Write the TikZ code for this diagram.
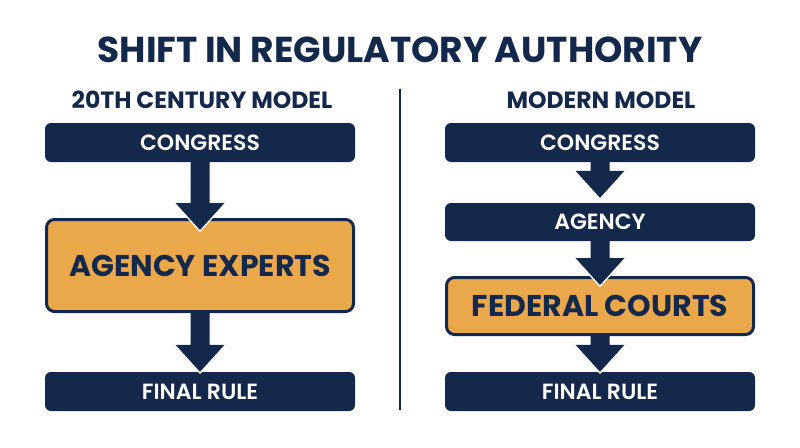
\documentclass[tikz,border=0pt]{standalone}
\usepackage{fontspec}
\setmainfont{Poppins}
\newfontfamily\medfont{Poppins SemiBold}
\usetikzlibrary{calc}
\definecolor{navy}{HTML}{13284B}
\definecolor{gold}{HTML}{EBA84A}
\tikzset{
  darkbox/.style={fill=navy, rounded corners=6pt, minimum width=310pt, text=white, font=\medfont\fontsize{22}{24}\selectfont},
  goldbox/.style={fill=gold, draw=navy, line width=3pt, rounded corners=8pt, minimum width=307pt, text=navy, font=\bfseries\fontsize{30}{32}\selectfont},
  colhead/.style={text=navy, font=\bfseries\fontsize{23.5}{25}\selectfont},
}
% block arrow: from box #1 down to box #2, tip shifted by #3
\newcommand{\blockarrow}[3]{%
  \draw[white, line width=3pt, miter limit=20] let \p1=(#1.south), \p2=($(#2.north)+(0,#3)$) in
    (\x1-24.5pt,\y2+27pt) -- (\x1,\y2) -- (\x1+24.5pt,\y2+27pt);
  \fill[navy] let \p1=(#1.south), \p2=($(#2.north)+(0,#3)$) in
    (\x1-9.5pt,\y1) -- (\x1-9.5pt,\y2+27pt) -- (\x1-24.5pt,\y2+27pt) -- (\x1,\y2)
    -- (\x1+24.5pt,\y2+27pt) -- (\x1+9.5pt,\y2+27pt) -- (\x1+9.5pt,\y1) -- cycle;
}
\begin{document}
\begin{tikzpicture}[x=1pt,y=-1pt]
\useasboundingbox[fill=white] (0,0) rectangle (800,447);

\node[text=navy, font=\bfseries\fontsize{36}{40}\selectfont] (title) at (400,50) {SHIFT IN REGULATORY AUTHORITY};
\node[colhead] (oldhead) at (202,100) {20TH CENTURY MODEL};
\node[colhead] (newhead) at (601,100) {MODERN MODEL};
\draw[navy, line width=2pt] (400,89) coordinate (divtop) -- (400,410) coordinate (divbot);

% 20th century model
\node[darkbox, minimum height=39pt] (cong1) at (200,142.5) {CONGRESS};
\node[goldbox, minimum height=92pt] (experts) at (200,265.5) {AGENCY EXPERTS};
\node[darkbox, minimum height=39pt] (rule1) at (200,391.5) {FINAL RULE};

% modern model
\node[darkbox, minimum height=39pt] (cong2) at (600,142.5) {CONGRESS};
\node[darkbox, minimum height=38pt] (agency) at (600,222) {AGENCY};
\node[goldbox, minimum height=57pt] (courts) at (600,306) {FEDERAL COURTS};
\node[darkbox, minimum height=39pt] (rule2) at (600,391.5) {FINAL RULE};

\blockarrow{cong1}{experts}{12}
\blockarrow{experts}{rule1}{0}
\blockarrow{cong2}{agency}{-5}
\blockarrow{agency}{courts}{9}
\blockarrow{courts}{rule2}{0}
\end{tikzpicture}
\end{document}
